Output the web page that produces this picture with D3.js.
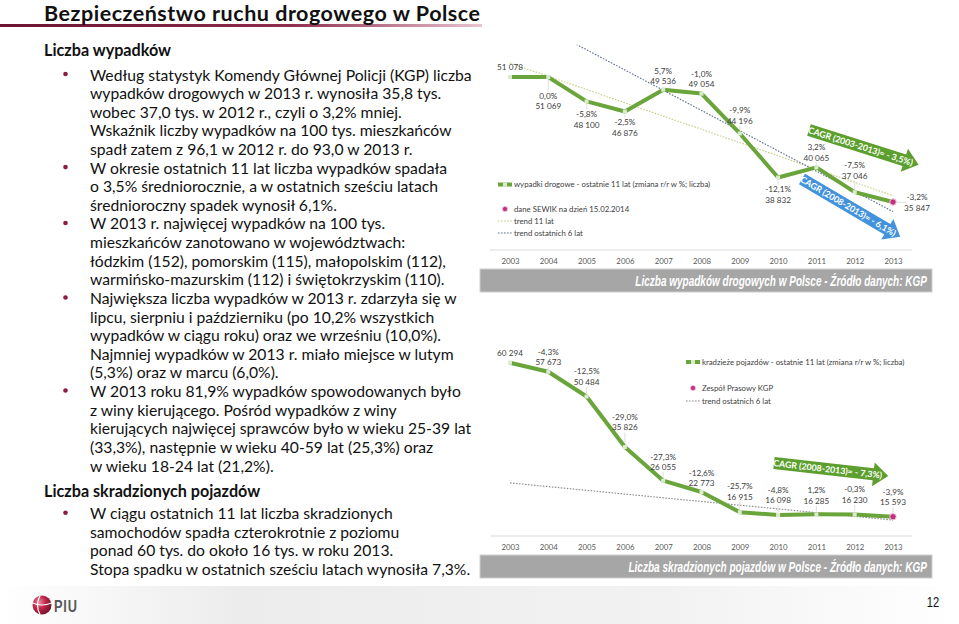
<!DOCTYPE html>
<html><head><meta charset="utf-8">
<script src="https://cdn.jsdelivr.net/npm/d3@7"></script>
<style>body{margin:0;background:#fff}svg{display:block}</style>
</head><body>
<svg id="c" width="959" height="624"></svg>
<script>
// ---------------- DATA ----------------
const years = ["2003","2004","2005","2006","2007","2008","2009","2010","2011","2012","2013"];
const accidents = [51078, 51069, 48100, 46876, 49536, 49054, 44196, 38832, 40065, 37046, 35847];
const accidentsChange = [null, "0,0%", "-5,8%", "-2,5%", "5,7%", "-1,0%", "-9,9%", "-12,1%", "3,2%", "-7,5%", "-3,2%"];
const thefts = [60294, 57673, 50484, 35826, 26055, 22773, 16915, 16098, 16285, 16230, 15593];
const theftsChange = [null, "-4,3%", "-12,5%", "-29,0%", "-27,3%", "-12,6%", "-25,7%", "-4,8%", "1,2%", "-0,3%", "-3,9%"];
// trend lines (values read at 2003 and 2013)
const trendYears = ["2003", "2013"];
const accTrend11 = [52780, 36620];
const accTrend6 = [59320, 34680];
const theftTrend6 = [25410, 14620];
const accLegend = ["wypadki drogowe - ostatnie 11 lat (zmiana r/r w %; liczba)", "dane SEWIK na dzień 15.02.2014", "trend 11 lat", "trend ostatnich 6 lat"];
const theftLegend = ["kradzieże pojazdów - ostatnie 11 lat (zmiana r/r w %; liczba)", "Zespół Prasowy KGP", "trend ostatnich 6 lat"];
const accCaption = "Liczba wypadków drogowych w Polsce - Źródło danych: KGP";
const theftCaption = "Liczba skradzionych pojazdów w Polsce - Źródło danych: KGP";
const cagrLabels = ["CAGR (2003-2013)= - 3,5%)", "CAGR (2008-2013)= - 6,1%)", "CAGR (2008-2013)= - 7,3%)"];

const title = "Bezpieczeństwo ruchu drogowego w Polsce";
const section1 = "Liczba wypadków";
const para1 = [
 ["Według statystyk Komendy Głównej Policji (KGP) liczba","wypadków drogowych w 2013 r. wynosiła 35,8 tys.","wobec 37,0 tys. w 2012 r., czyli o 3,2% mniej.","Wskaźnik liczby wypadków na 100 tys. mieszkańców","spadł zatem z 96,1 w 2012 r. do 93,0 w 2013 r."],
 ["W okresie ostatnich 11 lat liczba wypadków spadała","o 3,5% średniorocznie, a w ostatnich sześciu latach","średnioroczny spadek wynosił 6,1%."],
 ["W 2013 r. najwięcej wypadków na 100 tys.","mieszkańców zanotowano w województwach:","łódzkim (152), pomorskim (115), małopolskim (112),","warmińsko-mazurskim (112) i świętokrzyskim (110)."],
 ["Największa liczba wypadków w 2013 r. zdarzyła się w","lipcu, sierpniu i październiku (po 10,2% wszystkich","wypadków w ciągu roku) oraz we  wrześniu (10,0%).","Najmniej wypadków w 2013 r. miało miejsce w lutym","(5,3%) oraz w marcu (6,0%)."],
 ["W 2013 roku 81,9% wypadków spowodowanych było","z winy kierującego. Pośród wypadków z winy","kierujących najwięcej sprawców było w wieku 25-39 lat","(33,3%), następnie w wieku 40-59 lat (25,3%) oraz","w wieku 18-24 lat (21,2%)."]
];
const section2 = "Liczba skradzionych pojazdów";
const para2 = [
 ["W ciągu ostatnich 11 lat liczba skradzionych","samochodów spadła czterokrotnie z poziomu","ponad 60 tys. do około 16 tys. w roku 2013.","Stopa spadku w ostatnich sześciu latach wynosiła 7,3%."]
];
const pageNo = "12";

// ---------------- LAYOUT (label placement, not data) ----------------
const accLabelDy = [-10, 19, 13, 11, -19, -19.5, -23, 12, -20, -27, -4.5];
const accLabelDx = [0,0,0,0,0,0,0,0,0,0,24];
const theftLabelDy = [-10, -20, -25, -30, -24, -19, -26, -25, -24, -25, -25];
const theftLabelDx = [0,0,0,0,0,0,0,0,0,0,0];

const svg = d3.select("#c");
const defs = svg.append("defs");
const BODY = "Lato, 'Open Sans', sans-serif";
const NARROW = "'Liberation Sans', Arial, sans-serif";
const fmt = d3.formatLocale({decimal:",", thousands:" ", grouping:[3], currency:["",""]}).format(",d");

// ---------------- FOOTER BACKGROUND ----------------
const fg = defs.append("linearGradient").attr("id","ft").attr("x1","0").attr("x2","1");
fg.append("stop").attr("offset","0").attr("stop-color","#ffffff");
fg.append("stop").attr("offset","0.25").attr("stop-color","#ececec");
fg.append("stop").attr("offset","0.7").attr("stop-color","#f2f2f2");
fg.append("stop").attr("offset","1").attr("stop-color","#ffffff");
svg.append("rect").attr("x",0).attr("y",586).attr("width",959).attr("height",38).attr("fill","url(#ft)");

// ---------------- TITLE ----------------
const tg = defs.append("linearGradient").attr("id","tl").attr("x1","0").attr("x2","1");
tg.append("stop").attr("offset","0").attr("stop-color","#6a1431");
tg.append("stop").attr("offset","0.6").attr("stop-color","#8e2c4c");
tg.append("stop").attr("offset","1").attr("stop-color","#e9c4d0");
svg.append("rect").attr("x",0).attr("y",24).attr("width",482).attr("height",3).attr("fill","url(#tl)");
const tt = svg.append("text").attr("x",44).attr("y",20.5).attr("font-family",BODY).attr("font-weight",700)
  .attr("font-size",21.5).attr("fill","#111").text(title);
{ const w = tt.node().getComputedTextLength(); if (w < 436) tt.attr("textLength",436).attr("lengthAdjust","spacing");
  else tt.attr("font-size", 21.5*436/w); }

// ---------------- LEFT TEXT ----------------
const h1 = svg.append("text").attr("x",44).attr("y",55.5).attr("font-family",BODY).attr("font-weight",700)
  .attr("font-size",15.5).attr("fill","#111").text(section1);
const h2 = svg.append("text").attr("x",44).attr("y",497).attr("font-family",BODY).attr("font-weight",700)
  .attr("font-size",15.5).attr("fill","#111").text(section2);

function paragraphBlock(paras, y0, step){
  let i = 0;
  const nodes = [];
  paras.forEach(p => {
    svg.append("circle").attr("cx",65.5).attr("cy",y0 + i*step - 6.5).attr("r",2.3).attr("fill","#8a1d40");
    p.forEach(line => {
      nodes.push(svg.append("text").attr("x",90).attr("y",y0 + i*step).attr("font-family",BODY)
        .attr("font-size",15).attr("fill","#111").text(line));
      i++;
    });
  });
  return nodes;
}
const n1 = paragraphBlock(para1, 80.5, 18.62);
const n2 = paragraphBlock(para2, 519.3, 18.4);
{ const w = n1[0].node().getComputedTextLength(); const fs = 15*382/w;
  n1.concat(n2).forEach(n => n.attr("font-size", fs));
  h1.attr("font-size", fs*1.03); h2.attr("font-size", fs*1.03);
}

// ---------------- CHART HELPERS ----------------
const x = d3.scalePoint().domain(years).range([510, 893]);
const LBL = 8.2;

function drawChart(cfg){
  const g = svg.append("g");
  const y = cfg.y;
  g.append("line").attr("x1",490).attr("x2",912).attr("y1",cfg.axisY).attr("y2",cfg.axisY)
    .attr("stroke","#d9d9d9").attr("stroke-width",1);
  const ax = g.append("g").attr("transform",`translate(0,${cfg.axisY})`)
    .call(d3.axisBottom(x).tickSize(0).tickPadding(8));
  ax.select(".domain").remove();
  ax.selectAll("text").attr("font-family",BODY).attr("font-size",7.8).attr("fill","#595959");

  const cid = cfg.id + "clip";
  defs.append("clipPath").attr("id",cid).append("rect").attr("x",490).attr("width",422)
    .attr("y",y.range()[1]).attr("height",y.range()[0]-y.range()[1]);
  const pg = g.append("g").attr("clip-path",`url(#${cid})`);
  cfg.trends.forEach(t => {
    pg.append("path").datum(t.vals).attr("fill","none").attr("stroke",t.color).attr("stroke-width",1.1)
      .attr("stroke-dasharray","1.6,1.4")
      .attr("d", d3.line().x((d,i)=>x(trendYears[i])).y(d=>y(d)));
  });

  cfg.vals.forEach((v,i) => {
    const px = x(years[i]), py = y(v), dy = cfg.dy[i], dx = cfg.dx[i];
    if (dx > 0){
      g.append("line").attr("x1",px+3).attr("x2",px+dx-11).attr("y1",py).attr("y2",py+dy+5)
        .attr("stroke","#d6d6d6").attr("stroke-width",0.8);
    } else if (i>0 && dy > 0 && dy-5 > 4){
      g.append("line").attr("x1",px).attr("x2",px).attr("y1",py+3).attr("y2",py+dy-5)
        .attr("stroke","#d6d6d6").attr("stroke-width",0.8);
    } else if (i>0 && dy < 0 && -(dy+10.5+5) > 4){
      g.append("line").attr("x1",px).attr("x2",px).attr("y1",py+dy+10.5+5).attr("y2",py-3)
        .attr("stroke","#d6d6d6").attr("stroke-width",0.8);
    }
  });

  g.append("path").datum(cfg.vals).attr("fill","none").attr("stroke","#6aa53b").attr("stroke-width",4)
    .attr("stroke-linejoin","round")
    .attr("d", d3.line().x((d,i)=>x(years[i])).y(d=>y(d)));
  g.selectAll(".mk").data(cfg.vals.slice(0,-1)).join("rect")
    .attr("x",(d,i)=>x(years[i])-2).attr("y",d=>y(d)-2).attr("width",4).attr("height",4)
    .attr("fill","#dcebd0");
  const last = cfg.vals.length-1;
  g.append("circle").attr("cx",x(years[last])).attr("cy",y(cfg.vals[last])).attr("r",3.2)
    .attr("fill","#c2307f").attr("stroke","#f1c7dc").attr("stroke-width",1);

  cfg.vals.forEach((v,i) => {
    const px = x(years[i]) + cfg.dx[i], py = y(v) + cfg.dy[i];
    const lab = g.append("g").attr("font-family",BODY).attr("font-size",LBL).attr("fill","#404040").attr("text-anchor","middle");
    if (cfg.changes[i] === null){
      lab.append("text").attr("x",px).attr("y",py).attr("dy","0.35em").text(fmt(v));
    } else {
      lab.append("text").attr("x",px).attr("y",py).attr("dy","0.35em").text(cfg.changes[i]);
      lab.append("text").attr("x",px).attr("y",py+10.5).attr("dy","0.35em").text(fmt(v));
    }
  });

  const lg = g.append("g").attr("font-family",BODY).attr("font-size",7.8).attr("fill","#404040");
  const L = cfg.legend;
  lg.append("line").attr("x1",L.x).attr("x2",L.x+14).attr("y1",L.rows[0]).attr("y2",L.rows[0])
    .attr("stroke","#6aa53b").attr("stroke-width",4);
  lg.append("rect").attr("x",L.x+5).attr("y",L.rows[0]-2).attr("width",4).attr("height",4).attr("fill","#dcebd0");
  lg.append("circle").attr("cx",L.x+7).attr("cy",L.rows[1]).attr("r",2.6).attr("fill","#c2307f").attr("stroke","#f1c7dc").attr("stroke-width",0.8);
  cfg.trends.forEach((t,k) => {
    lg.append("line").attr("x1",L.x).attr("x2",L.x+14).attr("y1",L.rows[2+k]).attr("y2",L.rows[2+k])
      .attr("stroke",t.color).attr("stroke-width",1.1).attr("stroke-dasharray","1.6,1.4");
  });
  cfg.legendText.forEach((s,k) => {
    lg.append("text").attr("x",L.x+16).attr("y",L.rows[k]).attr("dy","0.35em").text(s);
  });

  g.append("rect").attr("x",480).attr("y",cfg.capY).attr("width",452).attr("height",23)
    .attr("fill","#a6a6a6").attr("stroke","#cfcfcf").attr("stroke-width",1);
  const cg = g.append("g").attr("transform",`translate(927,${cfg.capY+16.5})`);
  const ct = cg.append("text").attr("x",0).attr("y",0).attr("text-anchor","end")
    .attr("font-family",NARROW).attr("font-style","italic").attr("font-weight",700).attr("font-size",14)
    .attr("fill","#fff").text(cfg.caption);
  const cw = ct.node().getComputedTextLength();
  cg.attr("transform",`translate(927,${cfg.capY+16.5}) scale(${(927-cfg.capX)/cw},1)`);
}

drawChart({
  id:"acc", vals:accidents, changes:accidentsChange, dy:accLabelDy, dx:accLabelDx,
  y: d3.scaleLinear().domain([30000,55000]).range([250,44.8]), axisY:250,
  trends:[{vals:accTrend11,color:"#c9cc86"},{vals:accTrend6,color:"#5b6f92"}],
  legend:{x:498, rows:[184.5,209,221,233]}, legendText:accLegend,
  capY:269, capX:635, caption:accCaption
});
drawChart({
  id:"th", vals:thefts, changes:theftsChange, dy:theftLabelDy, dx:theftLabelDx,
  y: d3.scaleLinear().domain([10000,70000]).range([536,329.3]), axisY:536,
  trends:[{vals:theftTrend6,color:"#8a8a8a"}],
  legend:{x:686, rows:[362,388,401]}, legendText:theftLegend,
  capY:555, capX:628, caption:theftCaption
});

// ---------------- CAGR ARROWS ----------------
function arrow(tx, ty, ang, L, color, label){
  const bodyH = 12, headH = 24, headL = 15;
  const g = svg.append("g").attr("transform",`translate(${tx},${ty}) rotate(${ang})`);
  const pts = [[0,-bodyH/2],[L-headL,-bodyH/2],[L-headL,-headH/2],[L,0],[L-headL,headH/2],[L-headL,bodyH/2],[0,bodyH/2]];
  g.append("polygon").attr("points",pts.map(p=>p.join(",")).join(" ")).attr("fill",color);
  g.append("text").attr("x",L*0.47).attr("y",0).attr("dy","0.36em").attr("text-anchor","middle")
    .attr("font-family",BODY).attr("font-weight",700).attr("font-size",8.8).attr("fill","#fff").text(label);
}
arrow(809, 130, 17.6, 115, "#5c9f2e", cagrLabels[0]);
arrow(802, 179, 30.5, 114, "#4293dc", cagrLabels[1]);
arrow(774, 463, 6.5, 115, "#5c9f2e", cagrLabels[2]);

// ---------------- FOOTER ----------------
const rg = defs.append("radialGradient").attr("id","sph").attr("cx","0.35").attr("cy","0.35").attr("r","0.75");
rg.append("stop").attr("offset","0").attr("stop-color","#f08aa0");
rg.append("stop").attr("offset","0.45").attr("stop-color","#c02848");
rg.append("stop").attr("offset","1").attr("stop-color","#6a0c24");
svg.append("circle").attr("cx",42).attr("cy",605).attr("r",9.5).attr("fill","url(#sph)");
svg.append("path").attr("d","M40,595.6 Q35,605 40,614.4").attr("fill","none").attr("stroke","#fff").attr("stroke-width",1.2);
svg.append("path").attr("d","M32.6,603 Q42,607 51.4,603").attr("fill","none").attr("stroke","#fff").attr("stroke-width",1.2);
const piu = svg.append("g").attr("transform","translate(54,612) scale(0.8,1)");
piu.append("text").attr("font-family",NARROW).attr("font-weight",700)
  .attr("font-size",16).attr("letter-spacing",1).attr("fill","#5a5a5a").text("PIU");
const pn = svg.append("g").attr("transform","translate(933,606.5) scale(0.8,1)");
pn.append("text").attr("text-anchor","middle").attr("font-family",NARROW)
  .attr("font-size",14).attr("fill","#111").text(pageNo);
</script></body></html>
